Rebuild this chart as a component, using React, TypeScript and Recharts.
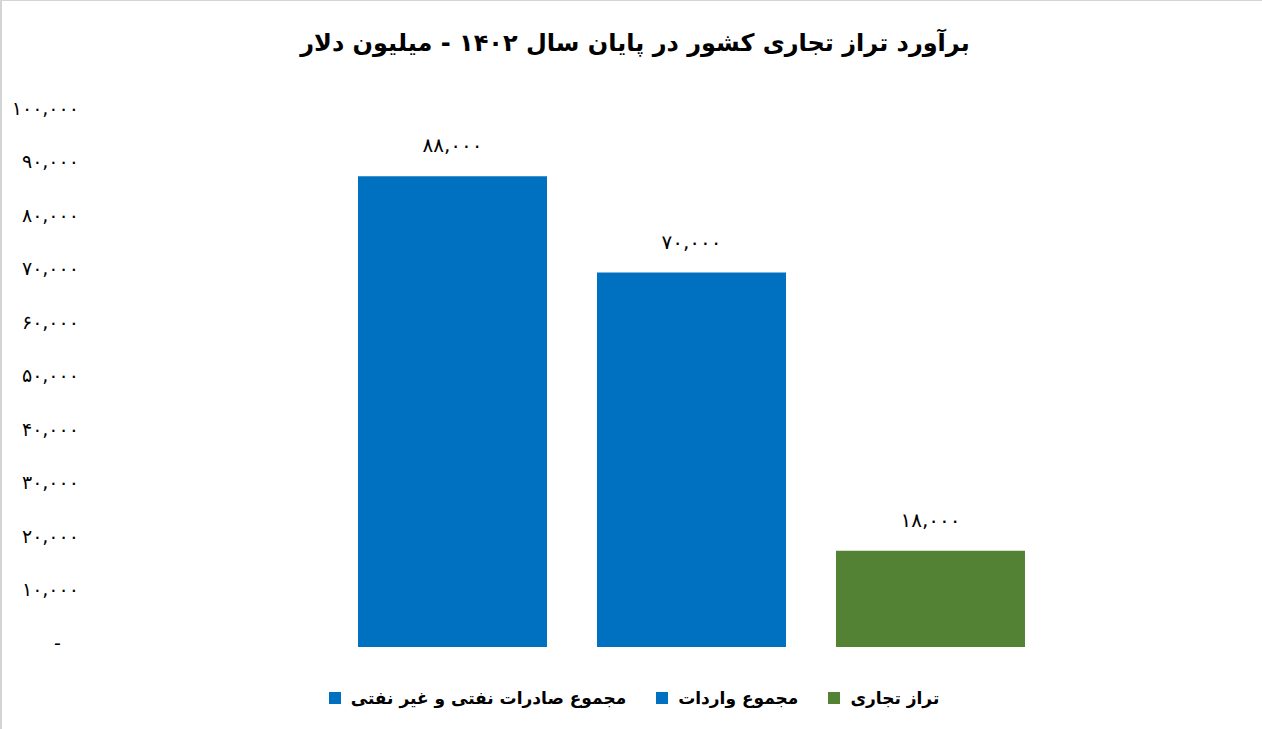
import React from 'react';
import { BarChart, Bar, XAxis, YAxis, Cell, LabelList, Legend } from 'recharts';

// برآورد تراز تجاری کشور در پایان سال ۱۴۰۲
const categories = ['مجموع صادرات نفتی و غیر نفتی', 'مجموع واردات', 'تراز تجاری'];
const values = [88000, 70000, 18000];
const colors = ['#0070C0', '#0070C0', '#548235'];
const yTicks = [0, 10000, 20000, 30000, 40000, 50000, 60000, 70000, 80000, 90000, 100000];

const title = 'برآورد تراز تجاری کشور در پایان سال ۱۴۰۲ - میلیون دلار';

const data = categories.map((name, i) => ({ name, value: values[i], color: colors[i] }));

const FONT = '"DejaVu Sans", sans-serif';

const toPersian = (n: number) => {
  const digits = '۰۱۲۳۴۵۶۷۸۹';
  return n
    .toLocaleString('en-US')
    .replace(/[0-9]/g, (d) => digits[Number(d)]);
};

// Excel accounting style: zero shows as a dash
const tickText = (n: number) => (n === 0 ? '-\u00A0\u00A0\u00A0' : toPersian(n));

const LegendContent = () => (
  <div
    style={{
      display: 'flex',
      justifyContent: 'center',
      alignItems: 'center',
      height: 30,
      gap: 30,
      paddingLeft: 26,
      fontFamily: FONT,
      fontWeight: 'bold',
      fontSize: 17,
      color: '#000',
    }}
  >
    {data.map((d) => (
      <div key={d.name} style={{ display: 'flex', alignItems: 'flex-end', gap: 10 }}>
        <span style={{ width: 12, height: 12, background: d.color, display: 'inline-block', marginBottom: 4 }} />
        <span dir="rtl">{d.name}</span>
      </div>
    ))}
  </div>
);

export default function App() {
  return (
    <div style={{ position: 'absolute', left: 0, top: 0, width: 1262, height: 729, background: '#fff' }}>
      <div
        dir="rtl"
        style={{
          position: 'absolute',
          top: 29,
          left: 0,
          width: 1262,
          paddingLeft: 8,
          boxSizing: 'border-box',
          textAlign: 'center',
          fontFamily: FONT,
          fontWeight: 'bold',
          fontSize: 24,
          color: '#000',
        }}
      >
        {title}
      </div>
      <BarChart
        width={1262}
        height={729}
        data={data}
        margin={{ top: 112, right: 20, bottom: 52, left: 0 }}
        barSize={189}
      >
        <XAxis dataKey="name" hide padding={{ left: 249, right: 192 }} />
        <YAxis
          domain={[0, 100000]}
          ticks={yTicks}
          interval={0}
          width={84}
          axisLine={false}
          tickLine={false}
          tickSize={0}
          tickMargin={5}
          tickFormatter={tickText}
          tick={{ fill: '#000', fontSize: 19, fontFamily: FONT, dy: -4 }}
        />
        <Legend content={<LegendContent />} verticalAlign="bottom" wrapperStyle={{ bottom: 16 }} />
        <Bar dataKey="value" isAnimationActive={false}>
          {data.map((d) => (
            <Cell key={d.name} fill={d.color} />
          ))}
          <LabelList
            dataKey="value"
            position="top"
            offset={24}
            formatter={(v: number) => toPersian(v)}
            style={{ fill: '#000', fontSize: 20, fontFamily: FONT }}
          />
        </Bar>
      </BarChart>
      <div
        style={{
          position: 'absolute',
          left: 0,
          top: 0,
          width: 1262,
          height: 729,
          borderTop: '1px solid #d4d4d4',
          borderLeft: '2px solid #d4d4d4',
          boxSizing: 'border-box',
          pointerEvents: 'none',
        }}
      />
    </div>
  );
}
